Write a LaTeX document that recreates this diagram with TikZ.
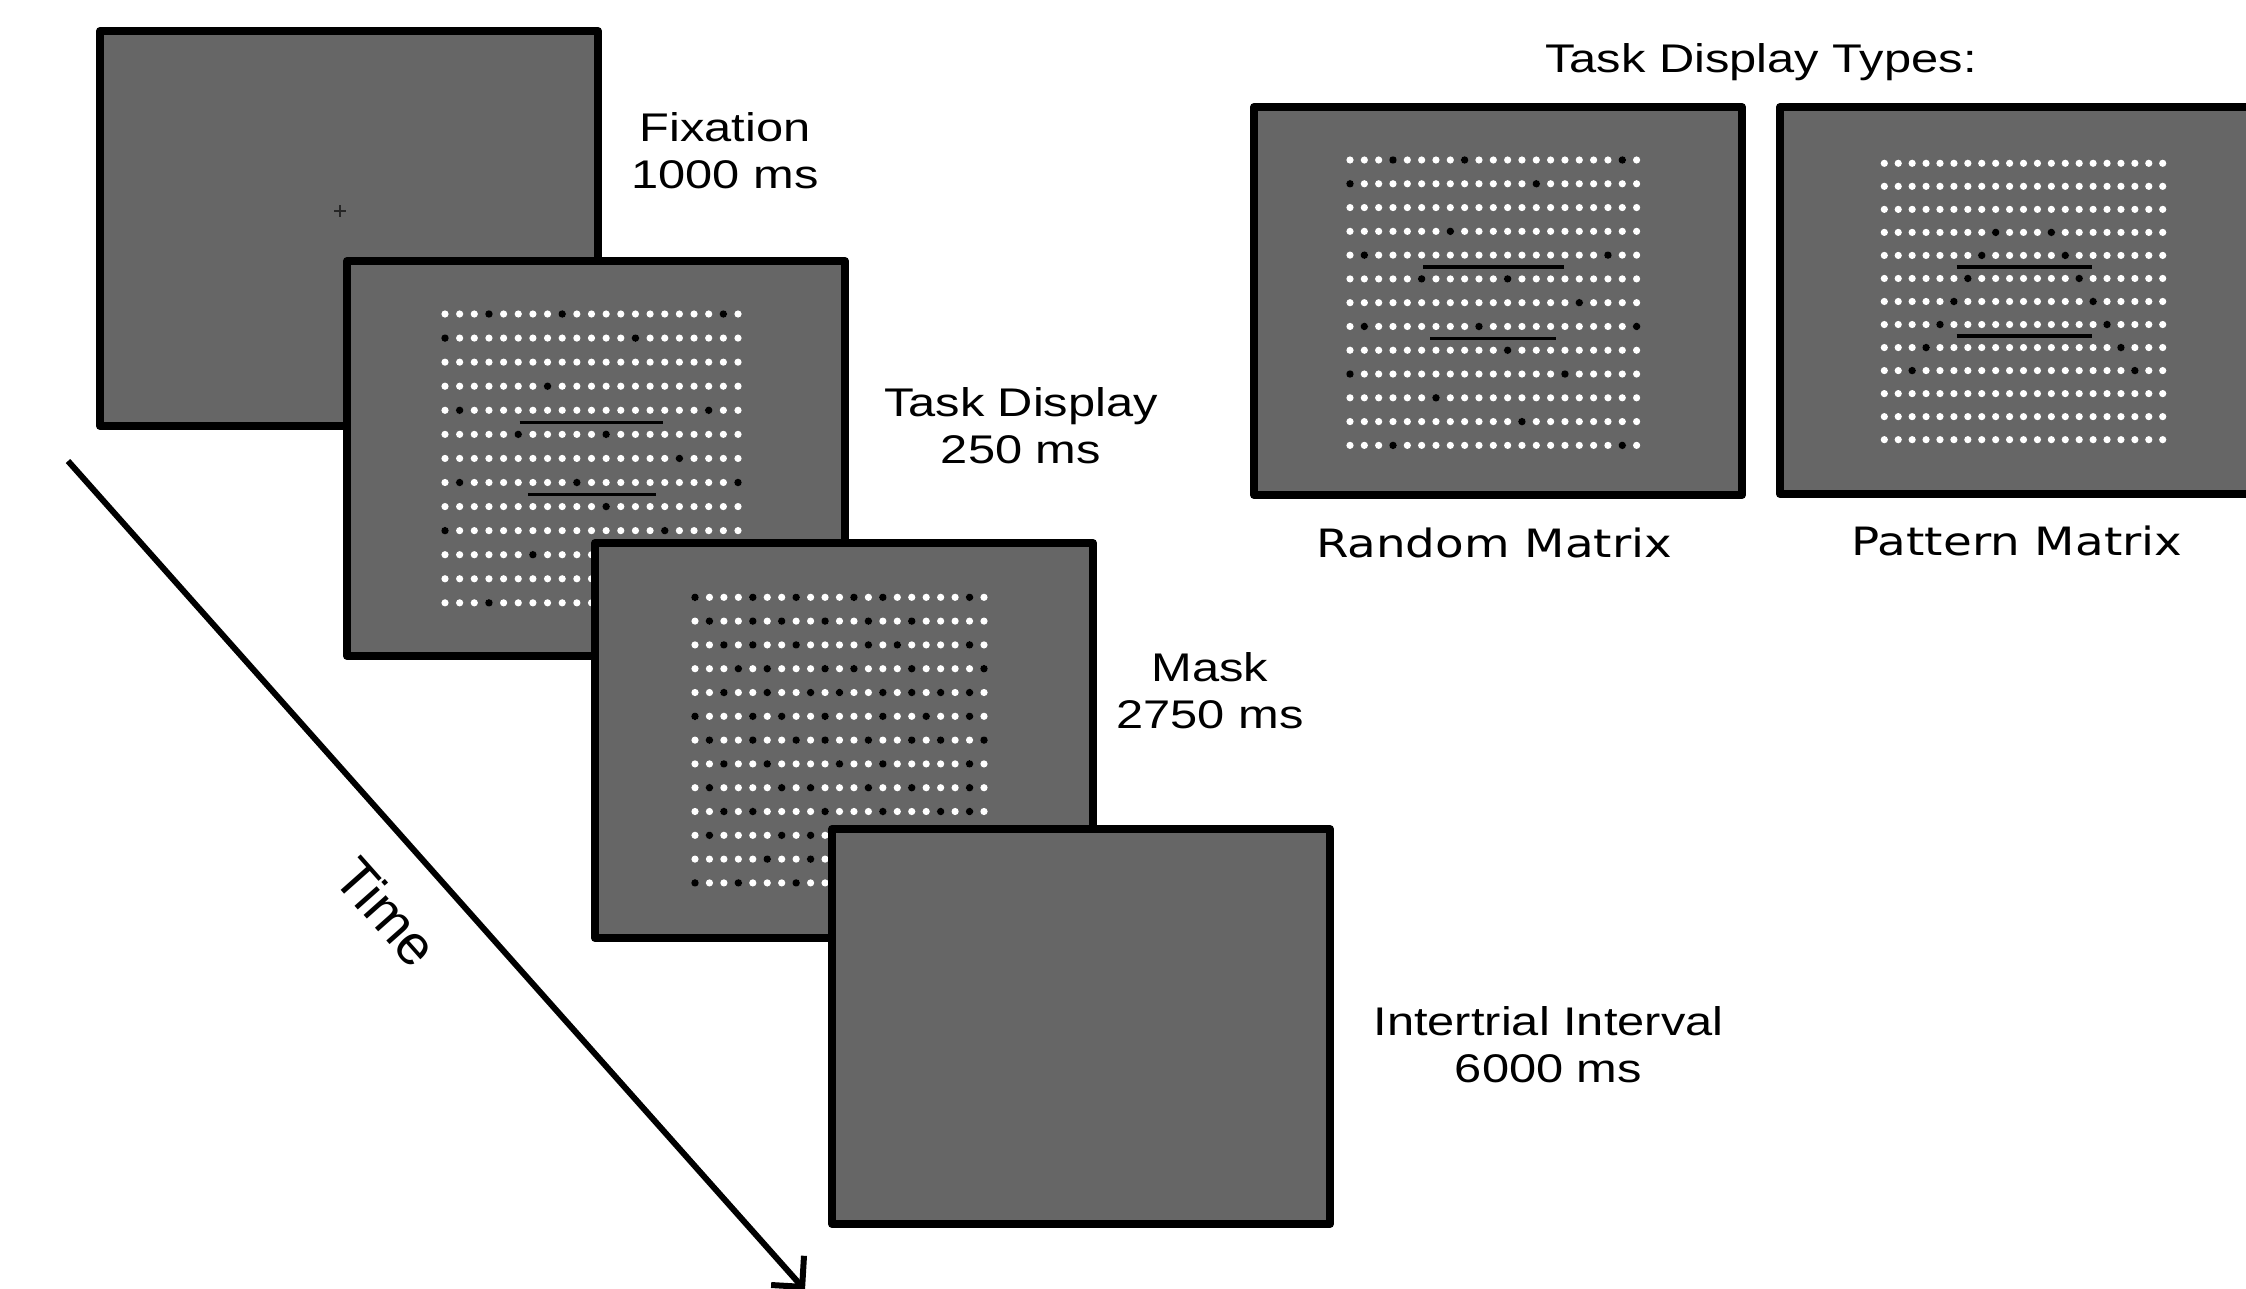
\documentclass[tikz,border=0pt]{standalone}
\usepackage{fontspec}
\setmainfont{Liberation Sans}
\newfontfamily\tahfont{DejaVu Sans}
\usepackage{graphicx}
\usetikzlibrary{arrows.meta}
\definecolor{screengray}{HTML}{666666}
% #1 x of first dot, #2 y of first dot, #3 column step, #4 row step, #5 macro holding black dots r/c
\newcommand\dotgrid[5]{%
  \foreach \rr in {0,...,12}{\foreach \cc in {0,...,20}{%
    \fill[white] ({#1+\cc*#3},{#2+\rr*#4}) circle[radius=3.6pt];}}%
  \foreach \rr/\cc in #5{\fill[black] ({#1+\cc*#3},{#2+\rr*#4}) circle[radius=3.8pt];}%
}
% #1 x0, #2 y0, #3 sx, #4 sy, #5 row, #6 col start, #7 col end
\newcommand\matline[7]{%
  \draw[line width=3.5pt] ({#1+#6*#3},{#2+#5*#4}) -- ({#1+#7*#3},{#2+#5*#4});}
\newcommand\wt[1]{\scalebox{1.22}[1]{#1}}
\newcommand\randomblack{0/3,0/8,0/19,1/0,1/13,3/7,4/1,4/18,5/5,5/11,6/16,7/1,7/9,7/20,8/11,9/0,9/15,10/6,11/12,12/3,12/19}
\newcommand\patternblack{3/8,3/12,4/7,4/13,5/6,5/14,6/5,6/15,7/4,7/16,8/3,8/17,9/2,9/18}
\newcommand\maskblack{0/0,0/4,0/7,0/11,0/13,0/19,
1/1,1/4,1/6,1/9,1/12,1/15,
2/2,2/4,2/7,2/12,2/14,2/19,
3/3,3/5,3/9,3/11,3/15,3/20,
4/2,4/5,4/8,4/10,4/13,4/15,4/17,4/19,
5/0,5/4,5/6,5/9,5/13,5/16,5/19,
6/1,6/4,6/7,6/9,6/12,6/15,6/17,6/20,
7/2,7/5,7/10,7/13,7/19,
8/1,8/6,8/8,8/12,8/15,8/19,
9/2,9/4,9/9,9/13,9/17,9/19,
10/1,10/6,10/8,10/14,
11/5,11/8,11/16,
12/0,12/3,12/7,12/12}
\begin{document}
\begin{tikzpicture}[x=1pt,y=-1pt,
  screen/.style={draw=black, fill=screengray, line width=8pt, line join=round,
    minimum width=498pt, minimum height=395pt, anchor=north west, outer sep=0pt, inner sep=0pt},
  smallscreen/.style={screen, minimum width=488pt, minimum height=388pt},
  lbl/.style={inner sep=0pt, anchor=base, font=\fontsize{40}{47}\selectfont},
  timearrow/.style={line width=6pt, -{Straight Barb[length=22pt,width=44pt,line width=6pt]}}]
\useasboundingbox (0,0) rectangle (2246,1288);
\clip (0,0) rectangle (2246,1288);

% Fixation screen
\node[screen] (fix) at (100,31) {};
\draw[line width=1.6pt, black!85] (334,211) -- (346,211) (340,205) -- (340,217);

% Task display screen
\node[screen] (task) at (347,261) {};
\dotgrid{445}{314}{14.65}{24.07}{\randomblack}
\matline{445}{314}{14.65}{24.07}{4.5}{5.1}{14.9}
\matline{445}{314}{14.65}{24.07}{7.5}{5.65}{14.4}

% Mask screen
\node[screen] (mask) at (595,543) {};
\dotgrid{695}{597.3}{14.45}{23.8}{\maskblack}

% Intertrial interval screen
\node[screen] (iti) at (832,829) {};

% Task display types
\node[smallscreen] (rnd) at (1254,107) {};
\dotgrid{1350}{160}{14.33}{23.78}{\randomblack}
\matline{1350}{160}{14.33}{23.78}{4.5}{5.1}{14.9}
\matline{1350}{160}{14.33}{23.78}{7.5}{5.6}{14.4}

\node[smallscreen, minimum height=387pt] (pat) at (1780,107) {};
\dotgrid{1884.3}{163.3}{13.92}{23.03}{\patternblack}
\matline{1884.3}{163.3}{13.92}{23.03}{4.5}{5.2}{14.9}
\matline{1884.3}{163.3}{13.92}{23.03}{7.5}{5.2}{14.9}

% Labels
\node[lbl] (fixlbl) at (725,141.5) {\wt{\begin{tabular}[t]{@{}c@{}}Fixation\\1000 ms\end{tabular}}};
\node[lbl] (tasklbl) at (1021,416.5) {\wt{\begin{tabular}[t]{@{}c@{}}Task Display\\250 ms\end{tabular}}};
\node[lbl] (masklbl) at (1210,681.5) {\wt{\begin{tabular}[t]{@{}c@{}}Mask\\2750 ms\end{tabular}}};
\node[lbl] (itilbl) at (1548.5,1035) {\wt{\begin{tabular}[t]{@{}c@{}}Intertrial Interval\\6000 ms\end{tabular}}};
\node[lbl] (typeslbl) at (1761,72.7) {\wt{Task Display Types:}};
\node[lbl, font=\tahfont\fontsize{39}{47}\selectfont] (rndlbl) at (1494,557) {\scalebox{1.2}[1]{Random Matrix}};
\node[lbl, font=\tahfont\fontsize{39}{47}\selectfont] (patlbl) at (2017,555.5) {\scalebox{1.2}[1]{Pattern Matrix}};

% Time arrow
\coordinate (tstart) at (68,461);
\coordinate (tend) at (805,1290);
\draw[timearrow] (tstart) -- (tend);
\node[inner sep=0pt, font=\fontsize{56}{60}\selectfont, rotate=-48.4] (timelbl) at (387,912) {Time};
\end{tikzpicture}
\end{document}
